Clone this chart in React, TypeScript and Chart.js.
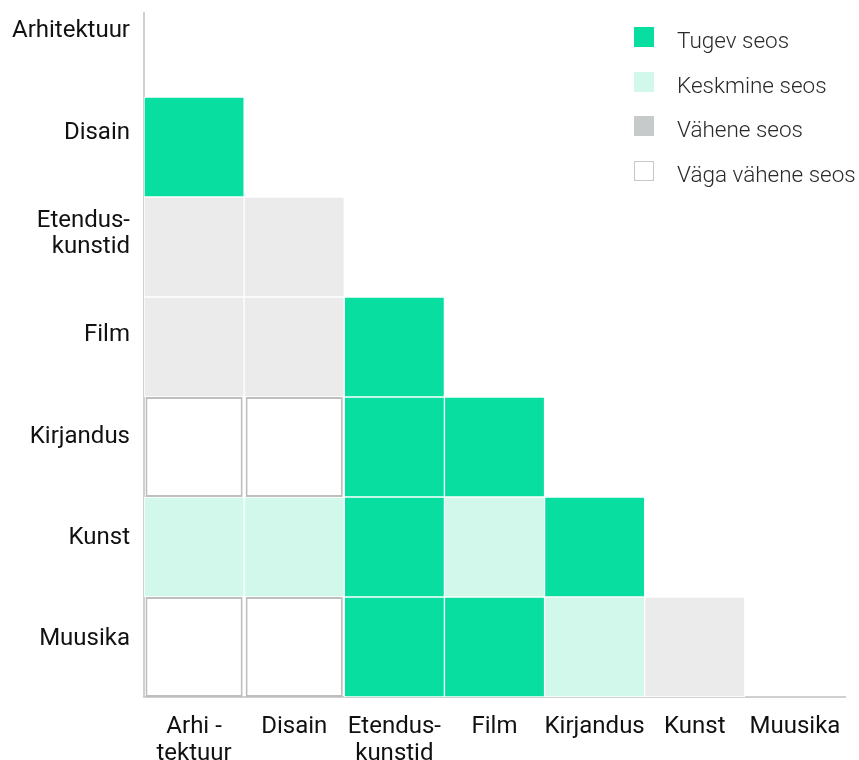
import React, { useEffect, useRef } from 'react';
import { Chart, registerables } from 'chart.js';

Chart.register(...registerables);

// Row (y) and column (x) categories
const rowNames = ['Arhitektuur', 'Disain', 'Etendus-kunstid', 'Film', 'Kirjandus', 'Kunst', 'Muusika'];
const rowTickLabels: (string | string[])[] = ['Arhitektuur', 'Disain', ['Etendus-', 'kunstid'], 'Film', 'Kirjandus', 'Kunst', 'Muusika'];
const colNames = ['Arhitektuur', 'Disain', 'Etendus-kunstid', 'Film', 'Kirjandus', 'Kunst', 'Muusika'];
const colTickLabels: (string | string[])[] = [['Arhi -', 'tektuur'], 'Disain', ['Etendus-', 'kunstid'], 'Film', 'Kirjandus', 'Kunst', 'Muusika'];

// Levels: 3 = Tugev, 2 = Keskmine, 1 = Vähene, 0 = Väga vähene
const levelNames = ['Väga vähene seos', 'Vähene seos', 'Keskmine seos', 'Tugev seos'];
const rowLevels: number[][] = [
  [],
  [3],
  [1, 1],
  [1, 1, 3],
  [0, 0, 3, 3],
  [2, 2, 3, 2, 3],
  [0, 0, 3, 3, 2, 1],
];

const cellColors = ['#ffffff', '#eaebea', '#d1f8ea', '#07de9f'];
const legendColors = ['#ffffff', '#c7caca', '#d1f8ea', '#07de9f'];
const legendOrder = [3, 2, 1, 0];

const FONT = 'Roboto, "Noto Sans", sans-serif';

export default function App() {
  const ref = useRef<HTMLCanvasElement | null>(null);

  useEffect(() => {
    if (!ref.current) return;
    const datasets = legendOrder.map((lvl) => {
      const data: { x: string; y: [number, number] }[] = [];
      rowLevels.forEach((cols, r) => {
        cols.forEach((v, c) => {
          if (v === lvl) data.push({ x: colNames[c], y: [r, r + 1] });
        });
      });
      return {
        label: levelNames[lvl],
        data,
        backgroundColor: cellColors[lvl],
        borderColor: lvl === 0 ? '#bdbdbd' : '#ffffff',
        borderWidth: lvl === 0 ? 2 : 1,
        borderSkipped: false as const,
        grouped: false,
        barPercentage: lvl === 0 ? 0.97 : 1,
        categoryPercentage: 1,
        xAxisID: 'x',
        yAxisID: 'y',
      };
    });

    const chart = new Chart(ref.current, {
      type: 'bar',
      data: { labels: colNames, datasets: datasets as any },
      options: {
        animation: false,
        responsive: false,
        devicePixelRatio: 1,
        layout: { padding: { top: 13, right: 14, left: 0, bottom: 0 } },
        plugins: { legend: { display: false }, tooltip: { enabled: false } },
        scales: {
          x: {
            type: 'category',
            position: 'bottom',
            offset: true,
            grid: { display: false, drawTicks: false },
            border: { display: true, color: '#d0d0d0', width: 2 },
            ticks: {
              padding: 16,
              maxRotation: 0,
              autoSkip: false,
              color: '#111111',
              font: { family: FONT, size: 24, lineHeight: 1.125 },
              callback: (_v: any, i: number) => colTickLabels[i],
            },
            afterFit: (s: any) => {
              s.height = 63;
              s.paddingLeft = 0;
              s.paddingRight = 0;
            },
          },
          y: {
            type: 'linear',
            display: false,
            reverse: true,
            min: 0.16,
            max: 7,
          },
          y2: {
            type: 'linear',
            position: 'left',
            reverse: true,
            min: -0.18,
            max: 6.57,
            grid: { display: false, drawTicks: false },
            border: { display: true, color: '#d0d0d0', width: 2 },
            afterBuildTicks: (s: any) => {
              s.ticks = rowNames.map((_, i) => ({ value: i }));
            },
            ticks: {
              padding: 14,
              color: '#111111',
              font: { family: FONT, size: 24, lineHeight: 1.05 },
              callback: (v: any) => rowTickLabels[Number(v)],
            },
            afterFit: (s: any) => {
              s.width = 144;
              s.paddingTop = 0;
              s.paddingBottom = 0;
            },
          },
        },
      },
    });
    return () => chart.destroy();
  }, []);

  return (
    <div style={{ position: 'fixed', left: 0, top: 0, width: 859, height: 760, background: '#fff' }}>
      <canvas ref={ref} width={859} height={760} style={{ display: 'block' }} />
      {legendOrder.map((lvl, i) => (
        <div
          key={lvl}
          style={{
            position: 'absolute',
            left: 634,
            top: 27 + i * 44.7,
            height: 20,
            display: 'flex',
            alignItems: 'center',
            whiteSpace: 'nowrap',
          }}
        >
          <div
            style={{
              width: 20,
              height: 20,
              flex: '0 0 auto',
              boxSizing: 'border-box',
              background: legendColors[lvl],
              border: lvl === 0 ? '1.5px solid #c8c8c8' : 'none',
            }}
          />
          <span
            style={{
              marginLeft: 23,
              fontFamily: FONT,
              fontSize: 22.5,
              fontWeight: 300,
              color: '#2a2a2a',
              lineHeight: '20px',
              position: 'relative',
              top: 3,
            }}
          >
            {levelNames[lvl]}
          </span>
        </div>
      ))}
    </div>
  );
}
